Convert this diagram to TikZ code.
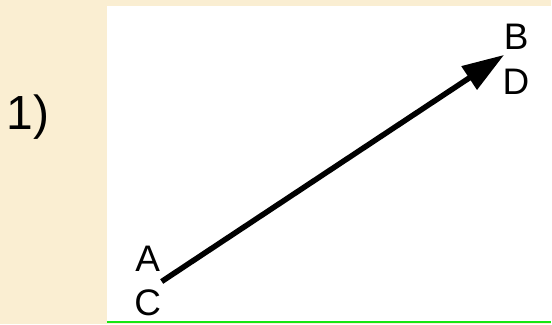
\documentclass[tikz,border=0pt]{standalone}
\usepackage{fontspec}
\setmainfont{Liberation Sans}
\usepackage{xcolor}
\usetikzlibrary{arrows.meta,positioning}
\definecolor{parch}{RGB}{250,238,210}
\definecolor{rulegreen}{RGB}{20,230,20}

\begin{document}
\begin{tikzpicture}[x=1pt, y=-1pt, >=Latex, font=\fontsize{37}{40}\selectfont]
  \tikzstyle{lbl}=[inner sep=0pt, anchor=center]
  \tikzstyle{vec}=[line width=5.5pt, -{Triangle[length=42pt, width=27pt]}]

  \fill[parch] (0,0) rectangle (552,325);
  \fill[white] (107,6) rectangle (552,322);
  \draw[rulegreen, line width=2pt] (107,323) -- (552,323);

  \node[lbl] (num) at (28,117) {\fontsize{48}{50}\selectfont 1)};

  \node[lbl] (a) at (148,259) {A};
  \node[lbl] (c) at (148,303) {C};
  \node[lbl] (b) at (517,37) {B};
  \node[lbl] (d) at (517,82) {D};

  \coordinate (tail) at (162,282);
  \coordinate (head) at (505,55);
  \draw[vec] (tail) -- (head);
\end{tikzpicture}
\end{document}
